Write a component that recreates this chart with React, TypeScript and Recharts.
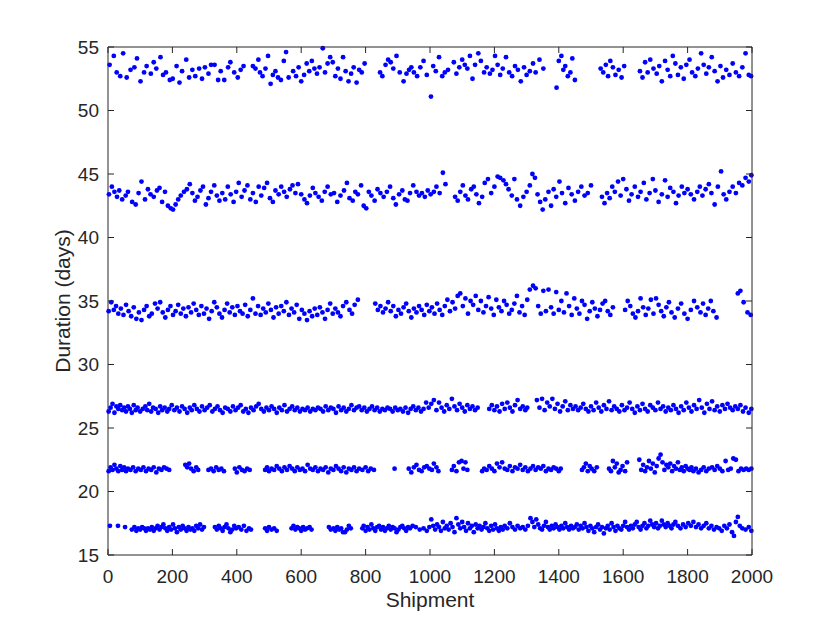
import React from 'react';
import { ScatterChart, Scatter, XAxis, YAxis, Label } from 'recharts';

const xTicks = [0, 200, 400, 600, 800, 1000, 1200, 1400, 1600, 1800, 2000];
const yTicks = [15, 20, 25, 30, 35, 40, 45, 50, 55];
const xLabel = 'Shipment';
const yLabel = 'Duration (days)';

const bandA: [number, number][] = [[5,53.6],[18,54.3],[27,53.0],[38,52.7],[47,54.5],[58,52.6],[70,53.2],[82,53.4],[90,54.1],[101,52.3],[112,53.0],[120,53.5],[133,52.9],[142,53.8],[150,53.3],[163,54.2],[171,52.8],[180,53.0],[192,52.4],[201,52.5],[213,53.5],[222,52.2],[230,53.1],[243,54.0],[252,52.6],[262,53.2],[271,52.7],[283,53.3],[292,52.5],[301,53.4],[312,52.9],[320,53.6],[331,53.6],[342,52.4],[350,53.1],[361,52.4],[373,53.4],[380,53.8],[392,53.0],[403,52.6],[412,53.2],[421,53.5],[450,53.5],[458,53.3],[467,54.0],[472,53.0],[480,52.7],[489,53.3],[497,54.3],[505,52.1],[512,52.8],[520,53.1],[528,52.6],[537,52.4],[546,53.9],[553,54.6],[561,52.6],[575,53.1],[584,52.7],[592,53.4],[600,52.3],[609,52.8],[617,53.7],[625,53.1],[633,53.9],[641,53.3],[649,52.9],[657,53.4],[667,54.9],[674,53.0],[682,53.7],[690,54.2],[698,53.8],[706,52.7],[714,53.3],[722,52.5],[730,54.2],[738,53.1],[747,52.3],[755,52.9],[763,53.4],[772,52.2],[780,53.2],[788,53.0],[797,53.7],[845,53.0],[852,52.7],[862,53.6],[870,54.0],[878,53.8],[886,53.3],[896,54.3],[906,53.0],[918,52.3],[927,52.9],[935,53.2],[942,53.4],[950,53.0],[960,52.7],[970,53.4],[980,53.9],[990,52.8],[1003,51.1],[1010,53.5],[1018,53.1],[1028,54.2],[1038,52.7],[1046,53.0],[1056,53.2],[1074,53.8],[1082,52.9],[1091,53.4],[1100,54.0],[1108,53.6],[1116,53.3],[1124,54.3],[1132,52.5],[1140,53.6],[1150,54.5],[1158,53.9],[1168,53.0],[1176,53.4],[1186,52.9],[1194,53.2],[1202,54.3],[1210,53.6],[1218,52.8],[1226,53.3],[1236,54.2],[1246,53.0],[1255,52.7],[1264,53.5],[1273,53.2],[1282,52.3],[1292,53.4],[1300,52.8],[1310,53.1],[1320,53.7],[1328,53.0],[1340,54.0],[1352,53.3],[1393,51.8],[1400,53.9],[1408,54.3],[1414,53.2],[1420,53.5],[1428,52.7],[1436,53.0],[1442,54.1],[1450,52.4],[1530,53.3],[1538,53.0],[1546,53.6],[1553,52.7],[1560,53.9],[1568,53.4],[1576,52.8],[1586,53.2],[1595,52.6],[1603,53.5],[1652,53.1],[1660,52.6],[1668,53.8],[1676,53.0],[1684,54.0],[1694,53.3],[1704,52.9],[1712,53.5],[1720,52.3],[1730,53.9],[1738,53.2],[1746,52.7],[1754,54.3],[1762,53.7],[1770,52.8],[1779,53.4],[1788,52.5],[1796,53.6],[1806,54.0],[1814,53.0],[1824,52.7],[1832,53.3],[1842,54.5],[1850,53.6],[1858,52.9],[1866,53.4],[1875,54.2],[1884,53.1],[1893,52.3],[1902,53.5],[1910,52.6],[1920,53.2],[1930,52.8],[1940,53.7],[1950,53.0],[1960,52.7],[1970,53.4],[1980,54.5],[1990,52.8],[1997,52.7]];

const bandB: [number, number][] = [[3,43.4],[12,44.0],[20,43.6],[28,43.2],[35,43.7],[44,43.0],[55,43.3],[62,43.6],[75,42.8],[86,42.6],[95,43.5],[104,44.4],[115,43.0],[124,43.8],[132,43.4],[142,43.2],[152,43.7],[160,43.9],[168,42.8],[177,43.6],[186,42.5],[195,42.3],[202,42.2],[210,42.6],[218,43.0],[226,43.3],[236,43.6],[245,43.8],[254,44.2],[262,43.5],[270,42.9],[278,43.2],[287,43.7],[295,44.0],[304,42.6],[312,43.1],[320,43.6],[330,44.1],[338,43.3],[346,42.9],[355,43.5],[364,43.0],[372,44.0],[381,43.4],[390,42.8],[398,43.6],[406,44.3],[415,43.2],[424,43.7],[433,44.1],[442,43.0],[450,43.5],[459,42.8],[468,44.0],[476,43.3],[485,43.9],[494,44.3],[503,43.1],[512,42.8],[520,43.7],[530,43.4],[538,44.0],[547,43.6],[555,43.2],[565,43.8],[573,44.1],[582,43.5],[590,44.2],[600,43.4],[610,43.0],[618,42.7],[627,43.3],[636,43.9],[644,43.5],[654,43.2],[664,42.9],[673,43.6],[682,44.0],[692,43.4],[702,43.5],[712,42.8],[722,43.3],[733,43.7],[742,44.3],[750,43.1],[760,42.9],[768,43.6],[776,43.4],[786,44.1],[794,42.5],[802,42.3],[810,43.6],[818,43.3],[828,42.9],[837,43.8],[846,43.5],[856,43.2],[866,43.6],[876,44.0],[886,43.1],[894,42.6],[904,43.4],[914,43.7],[922,43.0],[930,42.9],[938,43.5],[948,44.1],[958,43.6],[966,43.3],[975,43.5],[984,43.2],[993,43.7],[1002,43.4],[1012,43.6],[1020,44.0],[1030,43.5],[1040,45.1],[1048,44.2],[1078,43.2],[1086,42.9],[1094,43.6],[1102,44.1],[1110,43.3],[1118,43.0],[1128,43.8],[1136,44.0],[1144,43.4],[1152,42.7],[1162,43.2],[1170,44.3],[1180,44.6],[1190,43.5],[1200,44.0],[1210,44.8],[1218,44.7],[1228,44.5],[1236,44.2],[1244,43.8],[1254,43.3],[1262,44.6],[1270,43.0],[1280,42.5],[1290,43.2],[1300,43.6],[1310,44.1],[1318,45.0],[1326,44.7],[1334,43.4],[1342,42.8],[1350,42.2],[1358,43.0],[1368,43.6],[1376,42.5],[1384,43.8],[1392,43.2],[1402,44.4],[1410,43.5],[1420,42.7],[1430,43.9],[1440,43.4],[1450,42.9],[1460,43.6],[1470,44.0],[1480,43.3],[1490,43.5],[1500,44.1],[1534,43.2],[1542,42.7],[1550,43.5],[1558,43.1],[1566,44.0],[1574,43.6],[1584,44.4],[1592,43.3],[1600,44.6],[1610,43.8],[1618,42.9],[1626,43.4],[1636,44.0],[1646,43.2],[1654,43.6],[1664,44.3],[1672,43.0],[1682,43.5],[1692,44.6],[1700,43.7],[1710,42.8],[1720,43.4],[1730,44.5],[1738,43.2],[1746,43.9],[1756,43.6],[1764,42.7],[1772,43.3],[1782,44.0],[1790,43.5],[1800,43.8],[1810,43.4],[1820,43.0],[1830,43.6],[1838,44.0],[1846,43.3],[1856,43.8],[1866,44.2],[1874,43.5],[1884,42.6],[1894,44.0],[1904,45.2],[1912,43.4],[1920,43.0],[1930,43.6],[1940,44.0],[1950,43.5],[1960,44.3],[1970,44.1],[1980,44.7],[1990,44.4],[1998,44.9]];

const bandC: [number, number][] = [[2,34.2],[10,34.9],[18,34.3],[25,34.6],[32,34.0],[40,34.4],[48,33.9],[56,34.7],[64,34.2],[72,33.8],[80,34.5],[88,33.6],[96,34.1],[104,33.5],[112,34.3],[120,34.6],[128,33.8],[136,34.0],[146,34.8],[154,34.4],[162,34.9],[170,34.1],[178,33.7],[186,34.3],[194,34.6],[202,33.9],[210,34.2],[218,34.7],[226,34.0],[234,34.4],[242,33.8],[250,34.5],[258,34.1],[266,34.8],[274,34.3],[282,33.9],[290,34.6],[298,34.0],[306,34.4],[314,33.6],[322,34.2],[330,34.9],[338,34.5],[346,34.0],[354,33.7],[362,34.3],[370,34.8],[378,34.1],[386,34.5],[394,33.9],[402,34.6],[410,34.2],[418,34.0],[426,34.7],[434,33.8],[442,34.3],[450,35.2],[458,34.0],[466,34.6],[474,33.9],[482,34.4],[490,34.1],[498,34.8],[506,34.3],[514,33.7],[522,34.5],[530,34.0],[538,34.6],[546,34.2],[554,34.9],[562,33.9],[570,34.4],[578,34.1],[586,34.7],[594,33.6],[602,34.3],[610,34.0],[618,33.5],[626,34.2],[634,33.8],[642,34.4],[650,33.9],[658,34.5],[666,34.1],[674,33.6],[682,34.3],[690,34.8],[698,34.0],[706,34.4],[714,34.1],[722,33.8],[730,34.6],[740,34.9],[750,34.3],[758,34.0],[766,34.7],[776,35.1],[830,34.8],[838,34.3],[846,34.6],[854,34.1],[862,34.4],[870,34.9],[878,34.2],[886,34.6],[894,33.8],[902,34.3],[910,34.0],[918,34.5],[926,34.8],[934,34.2],[942,33.7],[950,34.4],[958,34.1],[966,34.6],[974,34.3],[982,33.9],[990,34.7],[998,34.2],[1006,34.5],[1014,34.0],[1022,34.8],[1030,34.3],[1038,33.9],[1046,34.6],[1054,35.1],[1062,34.2],[1070,34.9],[1078,34.4],[1086,35.4],[1094,35.6],[1102,34.6],[1110,35.2],[1118,34.0],[1126,35.0],[1134,34.7],[1142,35.4],[1150,34.3],[1158,35.0],[1166,34.1],[1174,34.6],[1182,35.3],[1190,34.4],[1198,33.9],[1206,35.1],[1214,34.5],[1222,34.2],[1230,35.0],[1238,34.7],[1246,34.0],[1254,34.3],[1262,34.8],[1270,35.4],[1278,34.1],[1286,34.6],[1294,33.9],[1302,35.1],[1310,35.9],[1320,36.2],[1328,36.0],[1336,34.6],[1344,34.0],[1352,35.8],[1360,34.2],[1368,35.9],[1376,34.5],[1384,34.0],[1392,35.7],[1400,34.3],[1408,35.0],[1416,34.1],[1424,35.6],[1432,34.6],[1440,33.9],[1448,35.2],[1456,34.4],[1464,34.0],[1472,35.0],[1480,34.7],[1488,33.6],[1496,34.2],[1504,34.9],[1512,34.4],[1520,33.8],[1528,34.3],[1536,34.8],[1544,35.0],[1552,34.2],[1560,33.9],[1568,34.5],[1606,34.3],[1614,35.0],[1622,34.6],[1630,34.0],[1638,33.7],[1646,34.2],[1654,35.2],[1662,34.5],[1670,33.9],[1678,34.4],[1686,35.1],[1694,34.0],[1702,35.2],[1710,34.7],[1718,34.2],[1726,33.8],[1734,34.5],[1742,34.9],[1750,34.1],[1760,33.7],[1770,34.4],[1780,34.8],[1790,34.0],[1800,33.6],[1810,34.3],[1820,35.0],[1830,34.5],[1840,34.1],[1848,34.8],[1856,33.9],[1864,34.4],[1872,35.0],[1880,34.2],[1890,33.7],[1956,35.6],[1964,35.8],[1974,34.9],[1986,34.1],[1996,33.9]];

const bandD: [number, number][] = [[2,26.3],[8,26.6],[14,26.9],[20,26.2],[26,26.7],[32,26.5],[38,26.8],[44,26.4],[50,26.6],[56,26.3],[62,26.7],[68,26.5],[74,26.2],[80,26.8],[86,26.4],[92,26.6],[100,26.3],[108,26.5],[116,26.7],[122,26.4],[128,26.9],[134,26.3],[140,26.6],[148,26.5],[156,26.2],[162,26.7],[168,26.4],[176,26.6],[184,26.3],[190,26.5],[198,26.8],[206,26.4],[214,26.6],[222,26.3],[230,26.7],[238,26.5],[246,26.2],[254,26.6],[260,26.4],[268,26.8],[276,26.5],[284,26.3],[292,26.7],[300,26.4],[308,26.6],[316,26.8],[324,26.3],[332,26.5],[340,26.7],[348,26.4],[356,26.2],[364,26.6],[372,26.5],[380,26.3],[388,26.7],[396,26.4],[404,26.6],[412,26.8],[420,26.3],[428,26.5],[436,26.2],[444,26.6],[452,26.4],[460,26.7],[468,26.9],[476,26.5],[484,26.3],[492,26.6],[500,26.4],[508,26.7],[516,26.5],[524,26.2],[532,26.6],[540,26.4],[548,26.8],[556,26.3],[564,26.5],[572,26.7],[580,26.4],[588,26.6],[596,26.3],[604,26.5],[612,26.4],[620,26.6],[628,26.3],[636,26.5],[644,26.4],[652,26.6],[660,26.5],[668,26.3],[676,26.7],[684,26.4],[692,26.6],[700,26.5],[708,26.2],[716,26.7],[724,26.4],[732,26.6],[740,26.3],[748,26.5],[756,26.8],[764,26.4],[772,26.6],[780,26.7],[788,26.4],[796,26.6],[804,26.3],[812,26.5],[820,26.7],[828,26.4],[836,26.6],[844,26.3],[852,26.5],[860,26.4],[868,26.6],[876,26.5],[884,26.3],[892,26.6],[900,26.4],[908,26.5],[916,26.3],[924,26.6],[932,26.2],[940,26.5],[948,26.7],[956,26.4],[964,26.6],[972,26.3],[980,26.5],[988,27.0],[996,26.6],[1004,26.9],[1012,27.2],[1020,26.4],[1028,27.0],[1036,26.6],[1044,26.3],[1052,26.8],[1060,26.5],[1068,27.3],[1076,26.7],[1084,26.4],[1092,26.9],[1100,26.6],[1108,26.3],[1116,26.8],[1124,26.5],[1132,26.7],[1140,26.4],[1148,26.6],[1184,26.5],[1192,26.8],[1200,26.4],[1208,26.7],[1216,26.3],[1224,26.9],[1232,26.5],[1240,27.0],[1248,26.6],[1256,26.3],[1264,26.8],[1272,27.2],[1280,26.5],[1288,26.7],[1296,26.4],[1302,26.6],[1332,27.2],[1340,26.6],[1348,27.3],[1356,26.4],[1364,27.0],[1372,26.7],[1380,27.3],[1388,26.5],[1396,26.9],[1404,26.3],[1412,26.7],[1420,27.1],[1428,26.4],[1436,26.8],[1444,26.5],[1452,26.7],[1460,26.4],[1468,26.6],[1476,26.9],[1484,26.5],[1492,26.3],[1500,26.7],[1508,26.4],[1516,27.0],[1524,26.6],[1532,26.3],[1540,26.8],[1548,26.5],[1556,27.1],[1564,26.4],[1572,26.7],[1580,26.5],[1588,26.3],[1596,26.8],[1604,26.4],[1612,26.6],[1620,27.0],[1628,26.5],[1636,26.2],[1644,26.7],[1652,26.4],[1660,26.9],[1668,26.5],[1676,26.3],[1684,26.8],[1692,26.6],[1700,26.4],[1708,27.0],[1716,26.5],[1724,26.7],[1732,26.3],[1740,26.6],[1748,26.4],[1756,26.8],[1764,26.5],[1772,26.2],[1780,26.7],[1788,26.4],[1796,27.0],[1804,26.6],[1812,26.3],[1820,26.8],[1828,26.5],[1836,27.2],[1844,26.6],[1852,26.2],[1860,26.9],[1868,26.5],[1876,27.1],[1884,26.4],[1892,26.7],[1900,26.3],[1908,26.8],[1916,26.5],[1924,26.9],[1932,26.6],[1940,26.4],[1948,26.7],[1956,26.5],[1964,26.8],[1972,26.3],[1980,26.6],[1990,26.2],[1998,26.5]];

const bandE: [number, number][] = [[2,21.6],[8,21.9],[14,21.7],[20,22.1],[26,21.8],[32,21.6],[38,22.0],[44,21.7],[50,21.9],[56,21.6],[62,21.8],[70,21.7],[78,21.9],[86,21.6],[94,21.8],[102,21.7],[110,21.9],[118,21.6],[126,21.8],[134,21.7],[142,21.9],[150,21.5],[158,21.8],[166,21.7],[174,21.9],[182,21.8],[190,21.7],[240,22.1],[246,21.9],[252,22.2],[258,21.8],[266,21.6],[274,21.9],[280,21.7],[312,21.7],[320,21.8],[328,21.6],[336,21.9],[344,21.7],[352,21.8],[360,21.6],[394,21.8],[400,21.5],[408,21.9],[416,21.7],[424,21.6],[432,21.8],[440,21.7],[488,21.7],[494,21.9],[500,21.6],[508,21.8],[516,21.7],[524,22.0],[532,21.8],[540,21.6],[548,21.9],[556,21.7],[564,22.0],[572,21.8],[580,21.6],[588,21.9],[596,21.7],[604,21.8],[612,21.6],[620,22.1],[628,21.8],[636,21.7],[644,21.9],[652,21.6],[660,21.8],[668,21.7],[676,21.9],[684,21.5],[692,21.8],[700,21.7],[708,22.0],[716,21.8],[724,21.6],[732,21.9],[740,21.5],[748,21.8],[756,21.7],[764,21.9],[772,21.6],[780,21.8],[790,21.7],[800,21.9],[808,21.6],[816,21.8],[826,21.7],[890,21.8],[934,21.8],[942,21.5],[950,21.9],[958,22.1],[966,21.7],[974,21.6],[982,21.9],[990,22.0],[998,21.8],[1006,21.7],[1012,22.2],[1020,21.9],[1026,21.6],[1068,21.7],[1074,22.0],[1082,21.6],[1090,22.3],[1098,22.4],[1104,21.8],[1110,22.3],[1116,21.7],[1162,21.6],[1168,21.8],[1176,21.7],[1184,22.0],[1192,21.8],[1200,21.6],[1208,22.2],[1216,21.9],[1224,22.3],[1232,21.8],[1240,21.7],[1248,22.0],[1256,21.6],[1264,21.9],[1272,21.8],[1280,22.1],[1288,21.7],[1296,21.9],[1304,21.6],[1312,21.8],[1320,22.0],[1328,21.7],[1336,21.9],[1344,21.8],[1352,22.0],[1360,21.6],[1368,21.8],[1376,21.7],[1384,21.9],[1392,21.8],[1400,21.6],[1406,21.8],[1472,21.7],[1478,21.9],[1484,22.2],[1490,21.6],[1496,22.0],[1502,21.8],[1510,21.6],[1518,21.9],[1556,21.8],[1562,21.6],[1568,22.4],[1574,21.9],[1580,22.2],[1586,21.5],[1592,21.7],[1598,22.0],[1606,21.6],[1612,22.3],[1650,22.5],[1656,21.7],[1662,22.1],[1668,21.6],[1674,21.9],[1680,22.4],[1686,21.8],[1692,22.2],[1698,21.5],[1704,22.0],[1710,22.6],[1716,22.9],[1722,22.3],[1728,21.7],[1734,22.1],[1740,21.9],[1746,22.2],[1752,21.6],[1758,22.0],[1764,21.8],[1770,22.3],[1776,21.7],[1782,21.9],[1788,21.6],[1794,22.0],[1800,21.8],[1806,21.7],[1812,21.9],[1818,21.6],[1826,21.8],[1834,21.5],[1842,21.7],[1850,21.9],[1858,21.6],[1866,21.8],[1876,21.9],[1884,21.7],[1892,22.0],[1900,21.8],[1908,21.6],[1918,22.4],[1926,21.7],[1934,21.8],[1942,22.6],[1950,22.5],[1958,21.6],[1966,21.8],[1974,21.7],[1982,21.8],[1990,21.7],[1998,21.8]];

const bandF: [number, number][] = [[6,17.3],[31,17.3],[53,17.2],[74,17.0],[82,17.2],[88,16.9],[94,17.1],[100,17.0],[106,17.2],[112,17.1],[118,16.9],[124,17.1],[130,17.0],[136,17.2],[142,16.9],[148,17.1],[154,17.3],[160,17.0],[166,17.2],[172,17.4],[178,17.1],[184,16.9],[190,17.2],[196,17.0],[202,17.4],[208,17.1],[214,16.8],[220,17.2],[226,17.0],[232,17.3],[238,17.1],[244,16.9],[250,17.2],[256,17.0],[262,17.1],[268,16.9],[274,17.3],[280,17.1],[286,17.4],[292,17.0],[298,17.2],[332,17.2],[338,17.0],[344,17.3],[350,17.1],[356,16.9],[362,17.2],[368,17.4],[374,17.1],[380,16.8],[386,17.0],[392,17.3],[398,17.1],[406,17.2],[414,17.0],[422,17.3],[430,16.9],[438,17.1],[444,17.0],[488,17.1],[494,16.9],[500,17.2],[508,17.0],[516,17.1],[524,16.9],[570,17.1],[576,17.3],[582,17.0],[588,17.2],[594,17.1],[600,16.9],[606,17.2],[612,17.0],[618,17.1],[626,17.2],[632,17.0],[686,17.2],[692,17.0],[700,17.1],[706,16.9],[712,17.2],[718,17.0],[724,17.1],[730,16.8],[736,16.8],[742,17.0],[748,17.3],[754,17.1],[790,17.1],[794,17.3],[800,16.9],[806,17.2],[812,17.0],[818,17.4],[824,17.1],[830,16.9],[836,17.2],[842,17.3],[848,17.0],[854,17.2],[860,16.9],[866,17.1],[872,17.3],[878,17.0],[884,17.2],[890,17.1],[896,16.8],[902,17.0],[908,17.2],[914,17.3],[920,17.1],[926,16.9],[932,17.2],[938,17.1],[946,17.3],[956,17.2],[968,17.0],[980,17.1],[990,16.9],[998,17.2],[1004,17.8],[1010,17.3],[1016,17.0],[1022,17.4],[1028,17.2],[1034,16.9],[1040,17.6],[1046,17.1],[1052,17.3],[1058,17.0],[1064,17.5],[1070,17.2],[1076,16.8],[1082,17.9],[1088,17.4],[1094,17.1],[1100,17.6],[1106,17.2],[1112,16.9],[1118,17.5],[1124,17.1],[1130,17.3],[1136,16.8],[1142,17.4],[1148,17.1],[1154,17.3],[1160,17.0],[1166,17.2],[1172,17.5],[1178,17.1],[1184,16.9],[1190,17.3],[1196,17.0],[1202,17.4],[1208,17.1],[1214,16.9],[1220,17.2],[1226,17.0],[1232,17.3],[1240,17.1],[1248,17.5],[1256,17.2],[1264,17.0],[1272,17.3],[1280,17.1],[1288,17.2],[1296,17.0],[1304,17.3],[1312,17.9],[1318,17.6],[1324,17.2],[1330,17.8],[1336,17.4],[1342,17.1],[1348,17.0],[1354,17.3],[1360,17.6],[1366,17.2],[1372,17.0],[1378,17.3],[1384,17.1],[1390,17.4],[1396,17.2],[1402,17.0],[1408,17.3],[1414,17.1],[1420,17.5],[1426,17.2],[1432,17.0],[1438,17.3],[1444,17.1],[1450,17.2],[1456,17.4],[1462,17.0],[1468,17.3],[1474,17.1],[1480,17.5],[1486,17.2],[1492,16.9],[1498,17.3],[1504,17.1],[1510,16.8],[1516,17.2],[1522,17.4],[1528,17.0],[1534,17.2],[1540,16.7],[1546,17.1],[1552,17.3],[1558,17.0],[1564,17.5],[1570,17.2],[1576,16.9],[1582,17.3],[1588,17.1],[1594,17.0],[1600,17.3],[1606,17.6],[1612,17.2],[1618,17.0],[1624,17.3],[1630,17.1],[1636,17.4],[1642,17.6],[1648,17.2],[1654,17.0],[1660,17.3],[1666,17.5],[1672,17.1],[1678,17.3],[1684,17.7],[1690,17.4],[1696,17.2],[1702,17.5],[1708,17.1],[1714,17.3],[1720,17.7],[1726,17.4],[1732,17.2],[1738,17.5],[1744,17.3],[1750,17.1],[1756,17.4],[1762,17.6],[1770,17.3],[1778,17.1],[1786,17.4],[1794,17.2],[1802,17.5],[1810,17.3],[1818,17.6],[1826,17.2],[1834,17.4],[1842,17.1],[1850,17.3],[1858,17.5],[1866,17.1],[1874,17.3],[1882,17.0],[1890,17.2],[1898,17.1],[1906,16.9],[1914,17.3],[1922,17.1],[1930,17.4],[1938,16.8],[1944,16.5],[1950,17.6],[1956,18.0],[1962,17.3],[1970,17.1],[1980,17.0],[1990,17.2],[1998,16.9]];

const bands = [bandA, bandB, bandC, bandD, bandE, bandF];

const FONT = '"Liberation Sans", Arial, Helvetica, sans-serif';
const AX = '#262626';
const DOT = '#0000ff';

const W = 830;
const H = 623;
const PLOT_LEFT = 108;
const PLOT_RIGHT = 752;
const PLOT_TOP = 47;
const PLOT_BOTTOM = 555;
const TICK_LEN = 6;

const BottomTick = (props: any) => {
  const { x, payload } = props;
  return (
    <g>
      <line x1={x} x2={x} y1={PLOT_BOTTOM} y2={PLOT_BOTTOM - TICK_LEN} stroke={AX} strokeWidth={1} />
      <text x={x} y={PLOT_BOTTOM + 28} textAnchor="middle" fontSize={19} fill={AX} fontFamily={FONT}>
        {payload.value}
      </text>
    </g>
  );
};

const TopTick = (props: any) => {
  const { x } = props;
  return <line x1={x} x2={x} y1={PLOT_TOP} y2={PLOT_TOP + TICK_LEN} stroke={AX} strokeWidth={1} />;
};

const LeftTick = (props: any) => {
  const { y, payload } = props;
  return (
    <g>
      <line x1={PLOT_LEFT} x2={PLOT_LEFT + TICK_LEN} y1={y} y2={y} stroke={AX} strokeWidth={1} />
      <text x={PLOT_LEFT - 9} y={y} dy="0.36em" textAnchor="end" fontSize={19} fill={AX} fontFamily={FONT}>
        {payload.value}
      </text>
    </g>
  );
};

const RightTick = (props: any) => {
  const { y } = props;
  return <line x1={PLOT_RIGHT} x2={PLOT_RIGHT - TICK_LEN} y1={y} y2={y} stroke={AX} strokeWidth={1} />;
};

const Dot = (props: any) => {
  const { cx, cy } = props;
  if (cx == null || cy == null) return <g />;
  return <circle cx={cx} cy={cy} r={2.4} fill={DOT} />;
};

export default function App() {
  const series = bands.map((b) => b.map(([x, y]) => ({ x, y })));
  return (
    <div style={{ position: 'absolute', left: 0, top: 0, width: W, height: H, background: '#fff' }}>
      <ScatterChart
        width={W}
        height={H}
        margin={{ top: PLOT_TOP - 1, right: W - PLOT_RIGHT - 1, bottom: 0, left: 0 }}
      >
        <XAxis
          dataKey="x"
          type="number"
          domain={[0, 2000]}
          ticks={xTicks}
          height={H - PLOT_BOTTOM}
          axisLine={{ stroke: AX, strokeWidth: 1 }}
          tickLine={false}
          tick={<BottomTick />}
          interval={0}
        >
          <Label
            content={() => (
              <text
                x={(PLOT_LEFT + PLOT_RIGHT) / 2}
                y={PLOT_BOTTOM + 52}
                textAnchor="middle"
                fontSize={21}
                fill={AX}
                fontFamily={FONT}
              >
                {xLabel}
              </text>
            )}
          />
        </XAxis>
        <XAxis
          xAxisId="top"
          orientation="top"
          dataKey="x"
          type="number"
          domain={[0, 2000]}
          ticks={xTicks}
          height={1}
          axisLine={false}
          tickLine={false}
          tick={<TopTick />}
          interval={0}
        />
        <YAxis
          dataKey="y"
          type="number"
          domain={[15, 55]}
          ticks={yTicks}
          width={PLOT_LEFT}
          axisLine={{ stroke: AX, strokeWidth: 1 }}
          tickLine={false}
          tick={<LeftTick />}
          interval={0}
        >
          <Label
            content={() => (
              <text
                x={70}
                y={(PLOT_TOP + PLOT_BOTTOM) / 2}
                transform={`rotate(-90 70 ${(PLOT_TOP + PLOT_BOTTOM) / 2})`}
                textAnchor="middle"
                fontSize={21}
                fill={AX}
                fontFamily={FONT}
              >
                {yLabel}
              </text>
            )}
          />
        </YAxis>
        <YAxis
          yAxisId="right"
          orientation="right"
          dataKey="y"
          type="number"
          domain={[15, 55]}
          ticks={yTicks}
          width={1}
          axisLine={false}
          tickLine={false}
          tick={<RightTick />}
          interval={0}
        />
        {series.map((d, i) => (
          <Scatter key={i} data={d} fill={DOT} shape={<Dot />} isAnimationActive={false} />
        ))}
        <Scatter
          data={[{ x: 0, y: 55 }, { x: 2000, y: 55 }]}
          xAxisId="top"
          yAxisId="right"
          line={{ stroke: AX, strokeWidth: 1 }}
          shape={() => <g />}
          isAnimationActive={false}
        />
        <Scatter
          data={[{ x: 2000, y: 15 }, { x: 2000, y: 55 }]}
          xAxisId="top"
          yAxisId="right"
          line={{ stroke: AX, strokeWidth: 1 }}
          shape={() => <g />}
          isAnimationActive={false}
        />
      </ScatterChart>
    </div>
  );
}
